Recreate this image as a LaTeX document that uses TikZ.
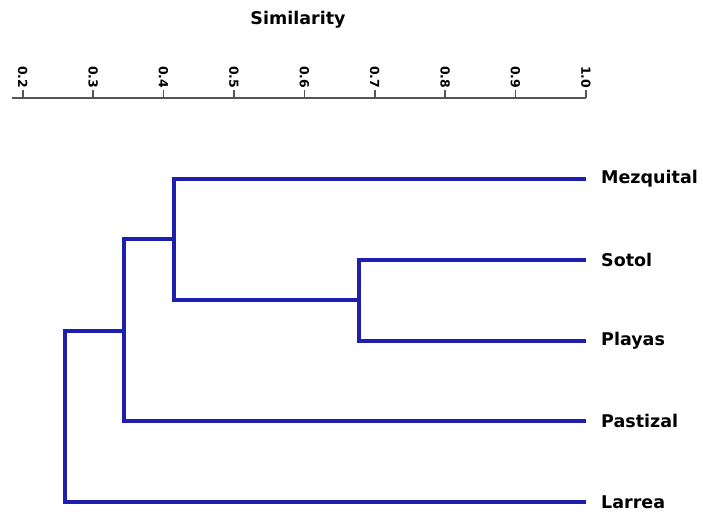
\documentclass[tikz,border=0pt]{standalone}
\usepackage{fontspec}
\setmainfont{DejaVu Sans}
\definecolor{treeblue}{RGB}{30,30,175}
\definecolor{axisgray}{RGB}{85,85,85}
\tikzset{
  branch/.style={draw=treeblue, line width=3.2pt},
  leaflabel/.style={anchor=west, font=\fontsize{17.5}{19}\selectfont\bfseries, inner sep=0pt},
  ticklabel/.style={anchor=east, rotate=-90, font=\fontsize{12.5}{14}\selectfont\bfseries, inner sep=0pt},
  axisline/.style={draw=axisgray, line width=2.4pt},
  tickmark/.style={draw=axisgray, line width=1.6pt}
}
\begin{document}
\begin{tikzpicture}[x=1pt,y=-1pt]
\useasboundingbox (0,0) rectangle (703,512);
% title
\node[font=\fontsize{17.5}{19}\selectfont\bfseries, inner sep=0pt] (title) at (298,20) {Similarity};
% axis
\coordinate (axL) at (12,98);
\coordinate (axR) at (586,98);
\draw[axisline] (axL) -- (axR);
\foreach \v/\lab [count=\i] in {0/0.2,1/0.3,2/0.4,3/0.5,4/0.6,5/0.7,6/0.8,7/0.9,8/1.0}{
  \coordinate (t\i) at ({22.7+70.4*\v},98);
  \coordinate (tt\i) at ({22.7+70.4*\v},90);
  \draw[tickmark] (t\i) -- (tt\i);
  \node[ticklabel] (tl\i) at ({22.7+70.4*\v},88.5) {\lab};
}
% leaves
\coordinate (mez) at (586,179);
\coordinate (sot) at (586,260);
\coordinate (pla) at (586,341);
\coordinate (pas) at (586,421);
\coordinate (lar) at (586,502);
% joins
\coordinate (j1) at (359,300);
\coordinate (j2) at (174,239);
\coordinate (j3) at (124,331);
\coordinate (j4) at (65,416);
\draw[branch] (sot) -| (j1) |- (pla);
\draw[branch] (mez) -| (j2) |- (j1);
\draw[branch] (j2) -| (j3) |- (pas);
\draw[branch] (j3) -| (j4) |- (lar);
% labels
\node[leaflabel] (lmez) at (601,179) {Mezquital};
\node[leaflabel] (lsot) at (601,260) {Sotol};
\node[leaflabel] (lpla) at (601,341) {Playas};
\node[leaflabel] (lpas) at (601,421) {Pastizal};
\node[leaflabel] (llar) at (601,502) {Larrea};
\end{tikzpicture}
\end{document}
